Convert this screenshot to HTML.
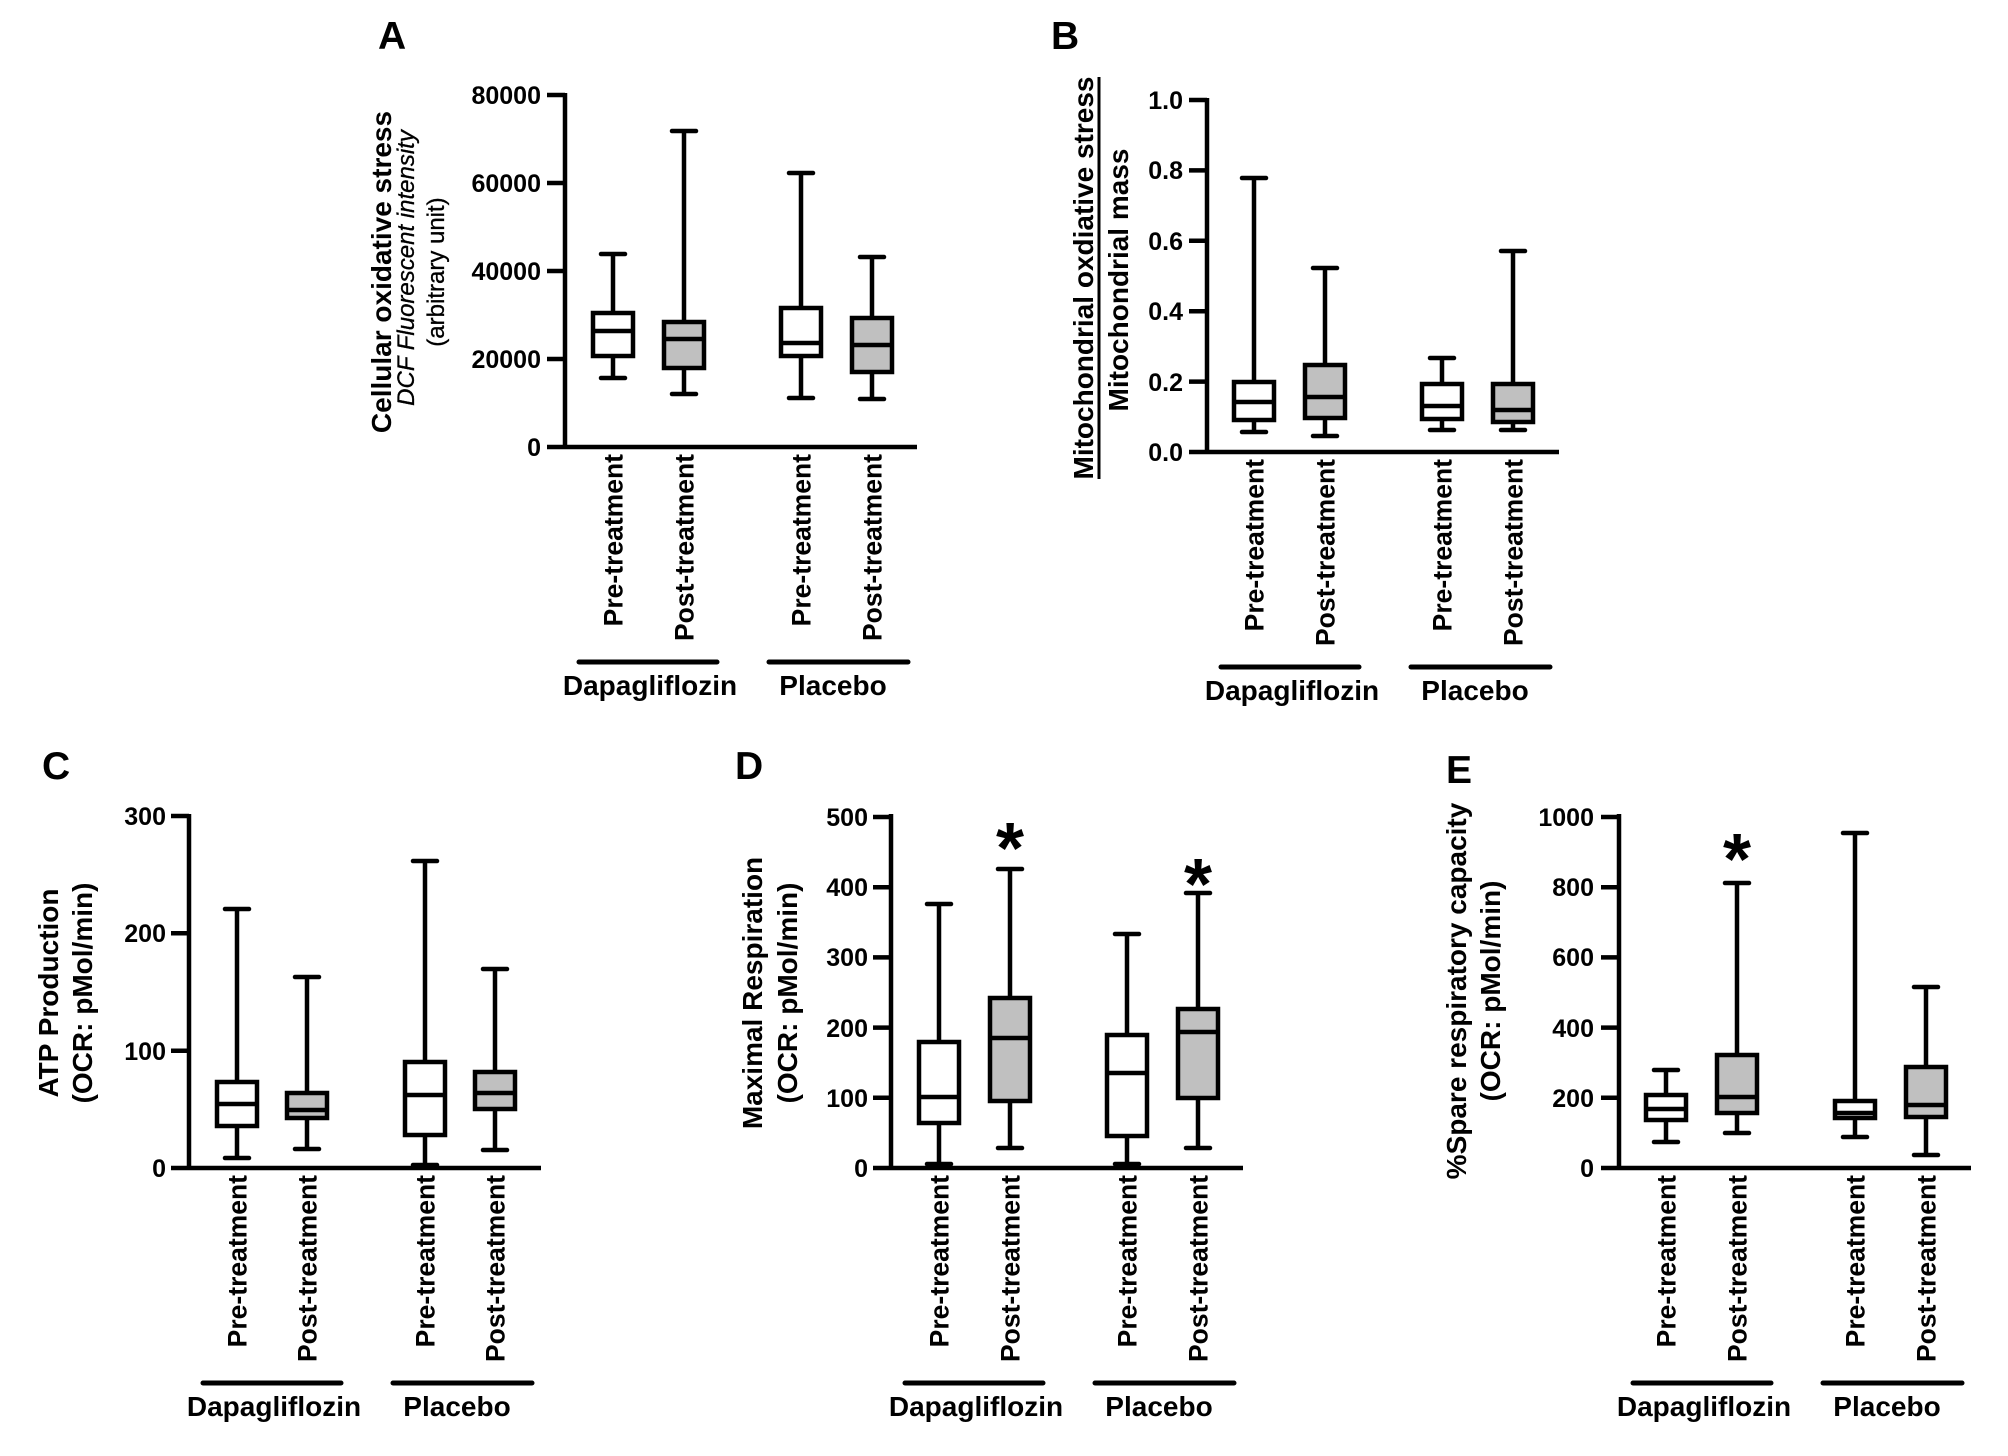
<!DOCTYPE html>
<html><head><meta charset="utf-8"><style>
html,body{margin:0;padding:0;background:#fff;}
svg{display:block;background:#fff;}
text{font-family:"Liberation Sans",Arial,sans-serif;fill:#000;}
.t{font-size:25px;font-weight:bold;text-anchor:end;}
.xl{font-size:26.5px;font-weight:bold;text-anchor:end;}
.g{font-size:28px;font-weight:bold;text-anchor:middle;}
.yl{font-size:28px;font-weight:bold;text-anchor:middle;}
.yr{font-size:24px;text-anchor:middle;stroke:#000;stroke-width:0.3;}
.pl{font-size:39px;font-weight:bold;}
.ast{font-size:72px;font-weight:bold;text-anchor:middle;}
line,rect{stroke:#000;stroke-width:4.5;}
.cap{stroke-linecap:round;}
.gl{stroke-width:5;stroke-linecap:round;}
</style></head><body>
<svg width="2008" height="1456" viewBox="0 0 2008 1456" xmlns="http://www.w3.org/2000/svg">

<!-- ================= PANEL A ================= -->
<text class="pl" x="378" y="49">A</text>
<line x1="565" y1="93" x2="565" y2="449"/>
<line x1="547" y1="447" x2="917" y2="447"/>
<line x1="547" y1="95" x2="565" y2="95"/>
<line x1="547" y1="183" x2="565" y2="183"/>
<line x1="547" y1="271" x2="565" y2="271"/>
<line x1="547" y1="359" x2="565" y2="359"/>
<text class="t" x="541" y="104">80000</text>
<text class="t" x="541" y="192">60000</text>
<text class="t" x="541" y="280">40000</text>
<text class="t" x="541" y="368">20000</text>
<text class="t" x="541" y="456">0</text>
<text class="yl" transform="translate(391,272) rotate(-90)">Cellular oxidative stress</text>
<text class="yr" font-style="italic" transform="translate(414,268) rotate(-90)">DCF Fluorescent intensity</text>
<text class="yr" transform="translate(444,272) rotate(-90)">(arbitrary unit)</text>
<!-- A1 -->
<line x1="613" y1="254" x2="613" y2="378"/>
<line class="cap" x1="601" y1="254" x2="625" y2="254"/>
<line class="cap" x1="601" y1="378" x2="625" y2="378"/>
<rect x="593" y="313" width="40" height="43" fill="#fff"/>
<line x1="593" y1="331" x2="633" y2="331"/>
<!-- A2 -->
<line x1="684" y1="131" x2="684" y2="394"/>
<line class="cap" x1="672" y1="131" x2="696" y2="131"/>
<line class="cap" x1="672" y1="394" x2="696" y2="394"/>
<rect x="664" y="322" width="40" height="46" fill="#c0c0c0"/>
<line x1="664" y1="339" x2="704" y2="339"/>
<!-- A3 -->
<line x1="801" y1="173" x2="801" y2="398"/>
<line class="cap" x1="789" y1="173" x2="813" y2="173"/>
<line class="cap" x1="789" y1="398" x2="813" y2="398"/>
<rect x="781" y="308" width="40" height="48" fill="#fff"/>
<line x1="781" y1="343" x2="821" y2="343"/>
<!-- A4 -->
<line x1="872" y1="257" x2="872" y2="399"/>
<line class="cap" x1="860" y1="257" x2="884" y2="257"/>
<line class="cap" x1="860" y1="399" x2="884" y2="399"/>
<rect x="852" y="318" width="40" height="54" fill="#c0c0c0"/>
<line x1="852" y1="345" x2="892" y2="345"/>
<text class="xl" transform="translate(622.5,454) rotate(-90)">Pre-treatment</text>
<text class="xl" transform="translate(693.5,454) rotate(-90)">Post-treatment</text>
<text class="xl" transform="translate(810.5,454) rotate(-90)">Pre-treatment</text>
<text class="xl" transform="translate(881.5,454) rotate(-90)">Post-treatment</text>
<line class="gl" x1="579" y1="662" x2="717" y2="662"/>
<line class="gl" x1="769" y1="662" x2="908" y2="662"/>
<text class="g" x="650" y="695">Dapagliflozin</text>
<text class="g" x="833" y="695">Placebo</text>

<!-- ================= PANEL B ================= -->
<text class="pl" x="1051" y="49">B</text>
<line x1="1207" y1="98" x2="1207" y2="454"/>
<line x1="1189" y1="452" x2="1559" y2="452"/>
<line x1="1189" y1="100" x2="1207" y2="100"/>
<line x1="1189" y1="170.4" x2="1207" y2="170.4"/>
<line x1="1189" y1="240.8" x2="1207" y2="240.8"/>
<line x1="1189" y1="311.2" x2="1207" y2="311.2"/>
<line x1="1189" y1="381.6" x2="1207" y2="381.6"/>
<text class="t" x="1183" y="109">1.0</text>
<text class="t" x="1183" y="179">0.8</text>
<text class="t" x="1183" y="250">0.6</text>
<text class="t" x="1183" y="320">0.4</text>
<text class="t" x="1183" y="391">0.2</text>
<text class="t" x="1183" y="461">0.0</text>
<text class="yl" transform="translate(1093,278) rotate(-90)">Mitochondrial oxdiative stress</text>
<line x1="1099" y1="77" x2="1099" y2="479" style="stroke-width:3"/>
<text class="yl" transform="translate(1128,280) rotate(-90)">Mitochondrial mass</text>
<!-- B1 -->
<line x1="1254" y1="178" x2="1254" y2="432"/>
<line class="cap" x1="1242" y1="178" x2="1266" y2="178"/>
<line class="cap" x1="1242" y1="432" x2="1266" y2="432"/>
<rect x="1234" y="382" width="40" height="38" fill="#fff"/>
<line x1="1234" y1="402" x2="1274" y2="402"/>
<!-- B2 -->
<line x1="1325" y1="268" x2="1325" y2="436"/>
<line class="cap" x1="1313" y1="268" x2="1337" y2="268"/>
<line class="cap" x1="1313" y1="436" x2="1337" y2="436"/>
<rect x="1305" y="365" width="40" height="53" fill="#c0c0c0"/>
<line x1="1305" y1="397" x2="1345" y2="397"/>
<!-- B3 -->
<line x1="1442" y1="358" x2="1442" y2="430"/>
<line class="cap" x1="1430" y1="358" x2="1454" y2="358"/>
<line class="cap" x1="1430" y1="430" x2="1454" y2="430"/>
<rect x="1422" y="384" width="40" height="35" fill="#fff"/>
<line x1="1422" y1="406" x2="1462" y2="406"/>
<!-- B4 -->
<line x1="1513" y1="251" x2="1513" y2="430"/>
<line class="cap" x1="1501" y1="251" x2="1525" y2="251"/>
<line class="cap" x1="1501" y1="430" x2="1525" y2="430"/>
<rect x="1493" y="384" width="40" height="38" fill="#c0c0c0"/>
<line x1="1493" y1="410" x2="1533" y2="410"/>
<text class="xl" transform="translate(1263.5,459) rotate(-90)">Pre-treatment</text>
<text class="xl" transform="translate(1334.5,459) rotate(-90)">Post-treatment</text>
<text class="xl" transform="translate(1451.5,459) rotate(-90)">Pre-treatment</text>
<text class="xl" transform="translate(1522.5,459) rotate(-90)">Post-treatment</text>
<line class="gl" x1="1221" y1="667" x2="1359" y2="667"/>
<line class="gl" x1="1411" y1="667" x2="1550" y2="667"/>
<text class="g" x="1292" y="700">Dapagliflozin</text>
<text class="g" x="1475" y="700">Placebo</text>

<!-- ================= PANEL C ================= -->
<text class="pl" x="42" y="779">C</text>
<line x1="189" y1="814" x2="189" y2="1170"/>
<line x1="171" y1="1168" x2="541" y2="1168"/>
<line x1="171" y1="816" x2="189" y2="816"/>
<line x1="171" y1="933.3" x2="189" y2="933.3"/>
<line x1="171" y1="1050.7" x2="189" y2="1050.7"/>
<text class="t" x="166" y="825">300</text>
<text class="t" x="166" y="942">200</text>
<text class="t" x="166" y="1060">100</text>
<text class="t" x="166" y="1177">0</text>
<text class="yl" transform="translate(58,993) rotate(-90)">ATP Production</text>
<text class="yl" transform="translate(92,993) rotate(-90)">(OCR: pMol/min)</text>
<!-- C1 -->
<line x1="237" y1="909" x2="237" y2="1158"/>
<line class="cap" x1="225" y1="909" x2="249" y2="909"/>
<line class="cap" x1="225" y1="1158" x2="249" y2="1158"/>
<rect x="217" y="1082" width="40" height="44" fill="#fff"/>
<line x1="217" y1="1104" x2="257" y2="1104"/>
<!-- C2 -->
<line x1="307" y1="977" x2="307" y2="1149"/>
<line class="cap" x1="295" y1="977" x2="319" y2="977"/>
<line class="cap" x1="295" y1="1149" x2="319" y2="1149"/>
<rect x="287" y="1093" width="40" height="25" fill="#c0c0c0"/>
<line x1="287" y1="1110" x2="327" y2="1110"/>
<!-- C3 -->
<line x1="425" y1="861" x2="425" y2="1165"/>
<line class="cap" x1="413" y1="861" x2="437" y2="861"/>
<line class="cap" x1="413" y1="1165" x2="437" y2="1165"/>
<rect x="405" y="1062" width="40" height="73" fill="#fff"/>
<line x1="405" y1="1095" x2="445" y2="1095"/>
<!-- C4 -->
<line x1="495" y1="969" x2="495" y2="1150"/>
<line class="cap" x1="483" y1="969" x2="507" y2="969"/>
<line class="cap" x1="483" y1="1150" x2="507" y2="1150"/>
<rect x="475" y="1072" width="40" height="37" fill="#c0c0c0"/>
<line x1="475" y1="1093" x2="515" y2="1093"/>
<text class="xl" transform="translate(246.5,1175) rotate(-90)">Pre-treatment</text>
<text class="xl" transform="translate(316.5,1175) rotate(-90)">Post-treatment</text>
<text class="xl" transform="translate(434.5,1175) rotate(-90)">Pre-treatment</text>
<text class="xl" transform="translate(504.5,1175) rotate(-90)">Post-treatment</text>
<line class="gl" x1="203" y1="1383" x2="341" y2="1383"/>
<line class="gl" x1="393" y1="1383" x2="532" y2="1383"/>
<text class="g" x="274" y="1416">Dapagliflozin</text>
<text class="g" x="457" y="1416">Placebo</text>

<!-- ================= PANEL D ================= -->
<text class="pl" x="735" y="779">D</text>
<line x1="891" y1="814" x2="891" y2="1170"/>
<line x1="873" y1="1168" x2="1243" y2="1168"/>
<line x1="873" y1="817" x2="891" y2="817"/>
<line x1="873" y1="887.2" x2="891" y2="887.2"/>
<line x1="873" y1="957.4" x2="891" y2="957.4"/>
<line x1="873" y1="1027.6" x2="891" y2="1027.6"/>
<line x1="873" y1="1097.8" x2="891" y2="1097.8"/>
<text class="t" x="868" y="826">500</text>
<text class="t" x="868" y="896">400</text>
<text class="t" x="868" y="966">300</text>
<text class="t" x="868" y="1037">200</text>
<text class="t" x="868" y="1107">100</text>
<text class="t" x="868" y="1177">0</text>
<text class="yl" transform="translate(762,993) rotate(-90)">Maximal Respiration</text>
<text class="yl" transform="translate(797,993) rotate(-90)">(OCR: pMol/min)</text>
<!-- D1 -->
<line x1="939" y1="904" x2="939" y2="1164"/>
<line class="cap" x1="927" y1="904" x2="951" y2="904"/>
<line class="cap" x1="927" y1="1164" x2="951" y2="1164"/>
<rect x="919" y="1042" width="40" height="81" fill="#fff"/>
<line x1="919" y1="1097" x2="959" y2="1097"/>
<!-- D2 -->
<line x1="1010" y1="869" x2="1010" y2="1148"/>
<line class="cap" x1="998" y1="869" x2="1022" y2="869"/>
<line class="cap" x1="998" y1="1148" x2="1022" y2="1148"/>
<rect x="990" y="998" width="40" height="103" fill="#c0c0c0"/>
<line x1="990" y1="1038" x2="1030" y2="1038"/>
<text class="ast" x="1010" y="873">*</text>
<!-- D3 -->
<line x1="1127" y1="934" x2="1127" y2="1164"/>
<line class="cap" x1="1115" y1="934" x2="1139" y2="934"/>
<line class="cap" x1="1115" y1="1164" x2="1139" y2="1164"/>
<rect x="1107" y="1035" width="40" height="101" fill="#fff"/>
<line x1="1107" y1="1073" x2="1147" y2="1073"/>
<!-- D4 -->
<line x1="1198" y1="893" x2="1198" y2="1148"/>
<line class="cap" x1="1186" y1="893" x2="1210" y2="893"/>
<line class="cap" x1="1186" y1="1148" x2="1210" y2="1148"/>
<rect x="1178" y="1009" width="40" height="89" fill="#c0c0c0"/>
<line x1="1178" y1="1032" x2="1218" y2="1032"/>
<text class="ast" x="1198" y="909">*</text>
<text class="xl" transform="translate(948.5,1175) rotate(-90)">Pre-treatment</text>
<text class="xl" transform="translate(1019.5,1175) rotate(-90)">Post-treatment</text>
<text class="xl" transform="translate(1136.5,1175) rotate(-90)">Pre-treatment</text>
<text class="xl" transform="translate(1207.5,1175) rotate(-90)">Post-treatment</text>
<line class="gl" x1="905" y1="1383" x2="1043" y2="1383"/>
<line class="gl" x1="1095" y1="1383" x2="1234" y2="1383"/>
<text class="g" x="976" y="1416">Dapagliflozin</text>
<text class="g" x="1159" y="1416">Placebo</text>

<!-- ================= PANEL E ================= -->
<text class="pl" x="1446" y="783">E</text>
<line x1="1619" y1="814" x2="1619" y2="1170"/>
<line x1="1601" y1="1168" x2="1971" y2="1168"/>
<line x1="1601" y1="817" x2="1619" y2="817"/>
<line x1="1601" y1="887.2" x2="1619" y2="887.2"/>
<line x1="1601" y1="957.4" x2="1619" y2="957.4"/>
<line x1="1601" y1="1027.6" x2="1619" y2="1027.6"/>
<line x1="1601" y1="1097.8" x2="1619" y2="1097.8"/>
<text class="t" x="1594" y="826">1000</text>
<text class="t" x="1594" y="896">800</text>
<text class="t" x="1594" y="966">600</text>
<text class="t" x="1594" y="1037">400</text>
<text class="t" x="1594" y="1107">200</text>
<text class="t" x="1594" y="1177">0</text>
<text class="yl" transform="translate(1466,991) rotate(-90)">%Spare respiratory capacity</text>
<text class="yl" transform="translate(1500,991) rotate(-90)">(OCR: pMol/min)</text>
<!-- E1 -->
<line x1="1666" y1="1070" x2="1666" y2="1142"/>
<line class="cap" x1="1654" y1="1070" x2="1678" y2="1070"/>
<line class="cap" x1="1654" y1="1142" x2="1678" y2="1142"/>
<rect x="1646" y="1095" width="40" height="25" fill="#fff"/>
<line x1="1646" y1="1109" x2="1686" y2="1109"/>
<!-- E2 -->
<line x1="1737" y1="883" x2="1737" y2="1133"/>
<line class="cap" x1="1725" y1="883" x2="1749" y2="883"/>
<line class="cap" x1="1725" y1="1133" x2="1749" y2="1133"/>
<rect x="1717" y="1055" width="40" height="58" fill="#c0c0c0"/>
<line x1="1717" y1="1097" x2="1757" y2="1097"/>
<text class="ast" x="1737" y="884">*</text>
<!-- E3 -->
<line x1="1855" y1="833" x2="1855" y2="1137"/>
<line class="cap" x1="1843" y1="833" x2="1867" y2="833"/>
<line class="cap" x1="1843" y1="1137" x2="1867" y2="1137"/>
<rect x="1835" y="1101" width="40" height="17" fill="#fff"/>
<line x1="1835" y1="1113" x2="1875" y2="1113"/>
<!-- E4 -->
<line x1="1926" y1="987" x2="1926" y2="1155"/>
<line class="cap" x1="1914" y1="987" x2="1938" y2="987"/>
<line class="cap" x1="1914" y1="1155" x2="1938" y2="1155"/>
<rect x="1906" y="1067" width="40" height="50" fill="#c0c0c0"/>
<line x1="1906" y1="1105" x2="1946" y2="1105"/>
<text class="xl" transform="translate(1675.5,1175) rotate(-90)">Pre-treatment</text>
<text class="xl" transform="translate(1746.5,1175) rotate(-90)">Post-treatment</text>
<text class="xl" transform="translate(1864.5,1175) rotate(-90)">Pre-treatment</text>
<text class="xl" transform="translate(1935.5,1175) rotate(-90)">Post-treatment</text>
<line class="gl" x1="1633" y1="1383" x2="1771" y2="1383"/>
<line class="gl" x1="1823" y1="1383" x2="1962" y2="1383"/>
<text class="g" x="1704" y="1416">Dapagliflozin</text>
<text class="g" x="1887" y="1416">Placebo</text>
</svg>
</body></html>
